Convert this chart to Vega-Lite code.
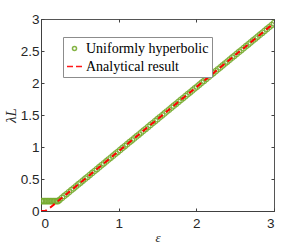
{
  "$schema": "https://vega.github.io/schema/vega-lite/v6.json",
  "width": 233,
  "height": 192,
  "autosize": "none",
  "padding": {"left": 41, "top": 19, "right": 31, "bottom": 35},
  "background": "white",
  "config": {
    "view": {"stroke": "#555555", "strokeWidth": 1},
    "style": {"guide-label": {"font": "Liberation Serif", "fontSize": 14}},
    "axis": {
      "grid": false,
      "domainColor": "#404040",
      "tickColor": "#404040",
      "tickSize": -3,
      "labelFont": "Liberation Sans",
      "labelFontSize": 13.5,
      "labelColor": "#262626",
      "titleFont": "Liberation Serif",
      "titleFontWeight": "normal",
      "titleColor": "#262626",
      "format": "~g"
    },
    "legend": {
      "labelFont": "Liberation Serif",
      "labelFontSize": 14,
      "labelColor": "#000000",
      "title": null,
      "orient": "none",
      "legendX": 22,
      "legendY": 18,
      "fillColor": "white",
      "strokeColor": "#8c8c8c",
      "padding": 3,
      "symbolSize": 225,
      "symbolStrokeWidth": 1.5,
      "rowPadding": 2,
      "labelOffset": 3,
      "symbolFillColor": "transparent"
    }
  },
  "datasets": {
    "uh": [
      {"e":0.00,"l":0.155,"s":"Uniformly hyperbolic"},{"e":0.02,"l":0.155,"s":"Uniformly hyperbolic"},{"e":0.04,"l":0.155,"s":"Uniformly hyperbolic"},{"e":0.06,"l":0.155,"s":"Uniformly hyperbolic"},{"e":0.08,"l":0.155,"s":"Uniformly hyperbolic"},{"e":0.10,"l":0.155,"s":"Uniformly hyperbolic"},{"e":0.12,"l":0.155,"s":"Uniformly hyperbolic"},{"e":0.14,"l":0.155,"s":"Uniformly hyperbolic"},{"e":0.16,"l":0.155,"s":"Uniformly hyperbolic"},{"e":0.18,"l":0.155,"s":"Uniformly hyperbolic"},{"e":0.20,"l":0.155,"s":"Uniformly hyperbolic"},{"e":0.22,"l":0.155,"s":"Uniformly hyperbolic"},
      {"e":0.24,"l":0.175,"s":"Uniformly hyperbolic"},{"e":0.27,"l":0.205,"s":"Uniformly hyperbolic"},{"e":0.30,"l":0.235,"s":"Uniformly hyperbolic"},{"e":0.33,"l":0.265,"s":"Uniformly hyperbolic"},{"e":0.36,"l":0.295,"s":"Uniformly hyperbolic"},{"e":0.39,"l":0.325,"s":"Uniformly hyperbolic"},{"e":0.42,"l":0.355,"s":"Uniformly hyperbolic"},{"e":0.45,"l":0.385,"s":"Uniformly hyperbolic"},{"e":0.48,"l":0.415,"s":"Uniformly hyperbolic"},{"e":0.51,"l":0.445,"s":"Uniformly hyperbolic"},{"e":0.54,"l":0.475,"s":"Uniformly hyperbolic"},{"e":0.57,"l":0.505,"s":"Uniformly hyperbolic"},{"e":0.60,"l":0.535,"s":"Uniformly hyperbolic"},{"e":0.63,"l":0.565,"s":"Uniformly hyperbolic"},{"e":0.66,"l":0.595,"s":"Uniformly hyperbolic"},{"e":0.69,"l":0.625,"s":"Uniformly hyperbolic"},{"e":0.72,"l":0.655,"s":"Uniformly hyperbolic"},{"e":0.75,"l":0.685,"s":"Uniformly hyperbolic"},{"e":0.78,"l":0.715,"s":"Uniformly hyperbolic"},{"e":0.81,"l":0.745,"s":"Uniformly hyperbolic"},{"e":0.84,"l":0.775,"s":"Uniformly hyperbolic"},{"e":0.87,"l":0.805,"s":"Uniformly hyperbolic"},{"e":0.90,"l":0.835,"s":"Uniformly hyperbolic"},{"e":0.93,"l":0.865,"s":"Uniformly hyperbolic"},{"e":0.96,"l":0.895,"s":"Uniformly hyperbolic"},{"e":0.99,"l":0.925,"s":"Uniformly hyperbolic"},{"e":1.02,"l":0.955,"s":"Uniformly hyperbolic"},{"e":1.05,"l":0.985,"s":"Uniformly hyperbolic"},{"e":1.08,"l":1.015,"s":"Uniformly hyperbolic"},{"e":1.11,"l":1.045,"s":"Uniformly hyperbolic"},{"e":1.14,"l":1.075,"s":"Uniformly hyperbolic"},{"e":1.17,"l":1.105,"s":"Uniformly hyperbolic"},{"e":1.20,"l":1.135,"s":"Uniformly hyperbolic"},{"e":1.23,"l":1.165,"s":"Uniformly hyperbolic"},{"e":1.26,"l":1.195,"s":"Uniformly hyperbolic"},{"e":1.29,"l":1.225,"s":"Uniformly hyperbolic"},{"e":1.32,"l":1.255,"s":"Uniformly hyperbolic"},{"e":1.35,"l":1.285,"s":"Uniformly hyperbolic"},{"e":1.38,"l":1.315,"s":"Uniformly hyperbolic"},{"e":1.41,"l":1.345,"s":"Uniformly hyperbolic"},{"e":1.44,"l":1.375,"s":"Uniformly hyperbolic"},{"e":1.47,"l":1.405,"s":"Uniformly hyperbolic"},{"e":1.50,"l":1.435,"s":"Uniformly hyperbolic"},{"e":1.53,"l":1.465,"s":"Uniformly hyperbolic"},{"e":1.56,"l":1.495,"s":"Uniformly hyperbolic"},{"e":1.59,"l":1.525,"s":"Uniformly hyperbolic"},{"e":1.62,"l":1.555,"s":"Uniformly hyperbolic"},{"e":1.65,"l":1.585,"s":"Uniformly hyperbolic"},{"e":1.68,"l":1.615,"s":"Uniformly hyperbolic"},{"e":1.71,"l":1.645,"s":"Uniformly hyperbolic"},{"e":1.74,"l":1.675,"s":"Uniformly hyperbolic"},{"e":1.77,"l":1.705,"s":"Uniformly hyperbolic"},{"e":1.80,"l":1.735,"s":"Uniformly hyperbolic"},{"e":1.83,"l":1.765,"s":"Uniformly hyperbolic"},{"e":1.86,"l":1.795,"s":"Uniformly hyperbolic"},{"e":1.89,"l":1.825,"s":"Uniformly hyperbolic"},{"e":1.92,"l":1.855,"s":"Uniformly hyperbolic"},{"e":1.95,"l":1.885,"s":"Uniformly hyperbolic"},{"e":1.98,"l":1.915,"s":"Uniformly hyperbolic"},{"e":2.01,"l":1.945,"s":"Uniformly hyperbolic"},{"e":2.04,"l":1.975,"s":"Uniformly hyperbolic"},{"e":2.07,"l":2.005,"s":"Uniformly hyperbolic"},{"e":2.10,"l":2.035,"s":"Uniformly hyperbolic"},{"e":2.13,"l":2.065,"s":"Uniformly hyperbolic"},{"e":2.16,"l":2.095,"s":"Uniformly hyperbolic"},{"e":2.19,"l":2.125,"s":"Uniformly hyperbolic"},{"e":2.22,"l":2.155,"s":"Uniformly hyperbolic"},{"e":2.25,"l":2.185,"s":"Uniformly hyperbolic"},{"e":2.28,"l":2.215,"s":"Uniformly hyperbolic"},{"e":2.31,"l":2.245,"s":"Uniformly hyperbolic"},{"e":2.34,"l":2.275,"s":"Uniformly hyperbolic"},{"e":2.37,"l":2.305,"s":"Uniformly hyperbolic"},{"e":2.40,"l":2.335,"s":"Uniformly hyperbolic"},{"e":2.43,"l":2.365,"s":"Uniformly hyperbolic"},{"e":2.46,"l":2.395,"s":"Uniformly hyperbolic"},{"e":2.49,"l":2.425,"s":"Uniformly hyperbolic"},{"e":2.52,"l":2.455,"s":"Uniformly hyperbolic"},{"e":2.55,"l":2.485,"s":"Uniformly hyperbolic"},{"e":2.58,"l":2.515,"s":"Uniformly hyperbolic"},{"e":2.61,"l":2.545,"s":"Uniformly hyperbolic"},{"e":2.64,"l":2.575,"s":"Uniformly hyperbolic"},{"e":2.67,"l":2.605,"s":"Uniformly hyperbolic"},{"e":2.70,"l":2.635,"s":"Uniformly hyperbolic"},{"e":2.73,"l":2.665,"s":"Uniformly hyperbolic"},{"e":2.76,"l":2.695,"s":"Uniformly hyperbolic"},{"e":2.79,"l":2.725,"s":"Uniformly hyperbolic"},{"e":2.82,"l":2.755,"s":"Uniformly hyperbolic"},{"e":2.85,"l":2.785,"s":"Uniformly hyperbolic"},{"e":2.88,"l":2.815,"s":"Uniformly hyperbolic"},{"e":2.91,"l":2.845,"s":"Uniformly hyperbolic"},{"e":2.94,"l":2.875,"s":"Uniformly hyperbolic"},{"e":2.97,"l":2.905,"s":"Uniformly hyperbolic"},{"e":3.00,"l":2.935,"s":"Uniformly hyperbolic"}
    ],
    "an": [
      {"e":0.00,"l":0.0,"s":"Analytical result"},
      {"e":0.04,"l":0.0,"s":"Analytical result"},
      {"e":0.06,"l":0.005,"s":"Analytical result"},
      {"e":0.08,"l":0.02,"s":"Analytical result"},
      {"e":0.12,"l":0.055,"s":"Analytical result"},
      {"e":0.16,"l":0.095,"s":"Analytical result"},
      {"e":0.20,"l":0.135,"s":"Analytical result"},
      {"e":3.00,"l":2.935,"s":"Analytical result"}
    ]
  },
  "layer": [
    {
      "data": {"name": "uh"},
      "mark": {"type": "point", "filled": false, "size": 416, "strokeWidth": 1.2, "opacity": 0.9, "clip": true},
      "encoding": {
        "x": {"field": "e", "type": "quantitative", "scale": {"domain": [0, 3], "nice": false},
              "axis": {"values": [0, 1, 2, 3], "title": "ε", "titleFontSize": 13, "titleFontStyle": "italic", "titlePadding": 2, "labelPadding": 8}},
        "y": {"field": "l", "type": "quantitative", "scale": {"domain": [0, 3], "nice": false},
              "axis": {"values": [0, 0.5, 1, 1.5, 2, 2.5, 3], "title": "λL", "titleFontSize": 15, "titleFontStyle": "italic", "titlePadding": 2, "labelPadding": 5}},
        "color": {"field": "s", "type": "nominal",
                  "scale": {"domain": ["Uniformly hyperbolic", "Analytical result"], "range": ["#77AC30", "#FF0000"]}},
        "shape": {"field": "s", "type": "nominal",
                  "scale": {"domain": ["Uniformly hyperbolic", "Analytical result"],
                            "range": ["M0.27,0A0.27,0.27 0 1,1 -0.27,0A0.27,0.27 0 1,1 0.27,0Z", "M-1,0H-0.2M0.2,0H1"]}}
      }
    },
    {
      "data": {"name": "an"},
      "mark": {"type": "line", "strokeWidth": 2, "strokeDash": [6, 4], "clip": true},
      "encoding": {
        "x": {"field": "e", "type": "quantitative", "axis": {"orient": "top", "values": [0, 1, 2, 3], "labels": false, "title": null, "domain": false}},
        "y": {"field": "l", "type": "quantitative", "axis": {"orient": "right", "values": [0, 0.5, 1, 1.5, 2, 2.5, 3], "labels": false, "title": null, "domain": false}},
        "color": {"field": "s", "type": "nominal"}
      }
    }
  ],
  "resolve": {"axis": {"x": "independent", "y": "independent"}}
}
